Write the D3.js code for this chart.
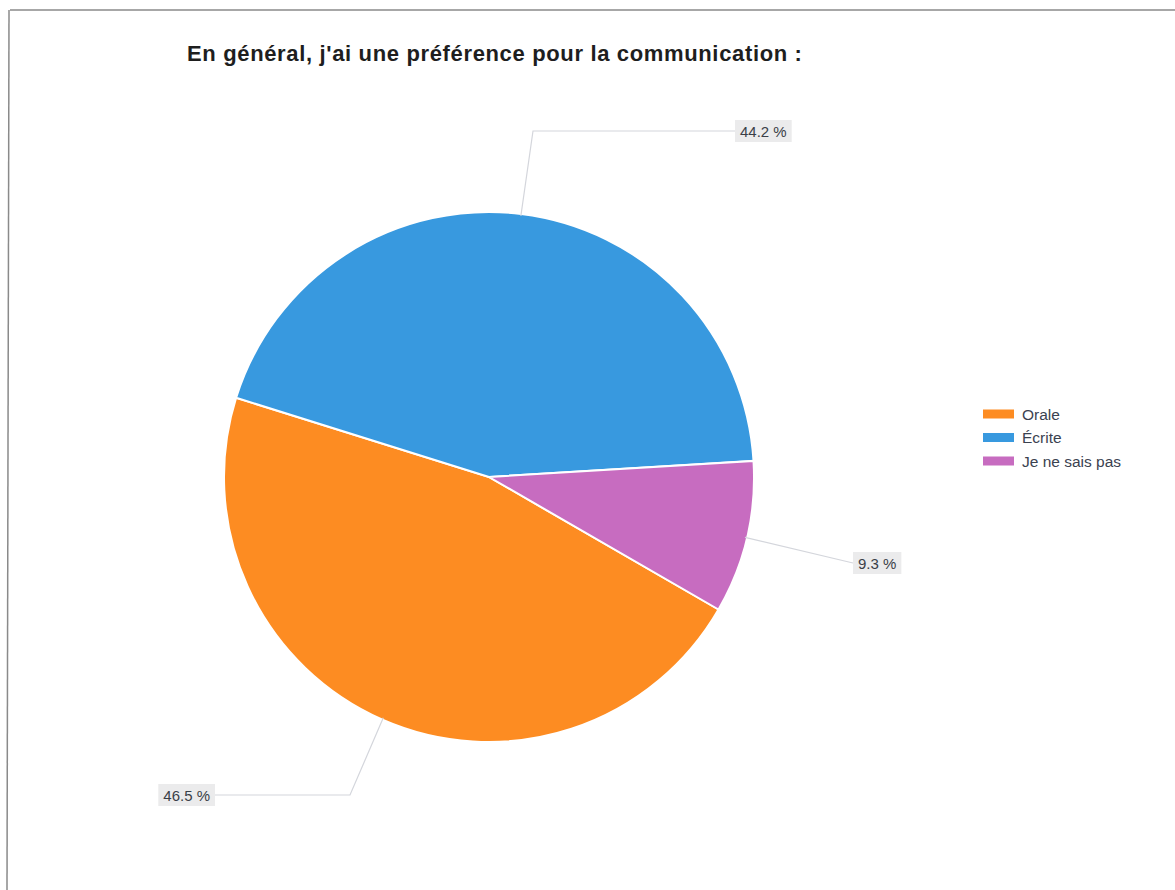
<!DOCTYPE html>
<html>
<head>
<meta charset="utf-8">
<script src="https://cdn.jsdelivr.net/npm/d3@7"></script>
<style>
  html, body { margin: 0; padding: 0; background: #fff; }
  svg { display: block; }
</style>
</head>
<body>
<svg id="chart" width="1175" height="890"></svg>
<script>
// Survey answers and their shares (%)
const categories = ["Orale", "Écrite", "Je ne sais pas"];
const shares = [46.5, 44.2, 9.3];
const sliceColors = ["#fd8c22", "#3899df", "#c76cc0"];
const titleText = "En général, j'ai une préférence pour la communication :";

const svg = d3.select("#chart");
const W = 1175, H = 890;
const FONT = "Liberation Sans, Arial, sans-serif";

// Frame (top and left rules)
svg.append("line").attr("x1", 10).attr("y1", 10).attr("x2", W).attr("y2", 10)
  .attr("stroke", "#8a8a8a").attr("stroke-width", 1.5);
svg.append("line").attr("x1", 9).attr("y1", 10).attr("x2", 7).attr("y2", H)
  .attr("stroke", "#8a8a8a").attr("stroke-width", 1.5);

// Title
svg.append("text")
  .attr("x", 187).attr("y", 61)
  .attr("font-family", FONT)
  .attr("font-weight", "bold").attr("font-size", 22)
  .attr("letter-spacing", 0.65)
  .attr("fill", "#1e1e1e")
  .text(titleText);

const cx = 489, cy = 477, R = 265;
const color = d3.scaleOrdinal().domain(categories).range(sliceColors);

const data = categories.map((c, i) => ({ name: c, value: shares[i] }));
const startDeg = 120;
const pie = d3.pie().value(d => d.value).sort(null)
  .startAngle(startDeg * Math.PI / 180)
  .endAngle((startDeg + 360) * Math.PI / 180);
const arcs = pie(data);
const arc = d3.arc().innerRadius(0).outerRadius(R);

const g = svg.append("g").attr("transform", `translate(${cx},${cy})`);
g.selectAll("path").data(arcs).join("path")
  .attr("d", arc)
  .attr("fill", d => color(d.data.name))
  .attr("stroke", "#fff").attr("stroke-width", 2);

// Leader lines and value labels
const fmt = v => d3.format(".1f")(v) + " %";
const edge = (d, r) => {
  const a = (d.startAngle + d.endAngle) / 2;
  return [Math.sin(a) * r, -Math.cos(a) * r];
};
// per-slice label layout: elbow offset and label side
const labelLayout = {
  "Orale":          { elbow: [-139, 318], end: [-274, 318], anchor: "end" },
  "Écrite":         { elbow: [44, -346], end: [246, -346], anchor: "start" },
  "Je ne sais pas": { elbow: null, end: [364, 86], anchor: "start" }
};
arcs.forEach(d => {
  const L = labelLayout[d.data.name];
  const p0 = edge(d, R - 2);
  const pts = [p0];
  if (L.elbow) pts.push(L.elbow);
  pts.push(L.end);
  g.append("path")
    .attr("d", d3.line()(pts))
    .attr("fill", "none").attr("stroke", "#d4d6dc").attr("stroke-width", 1.2);
  const t = g.append("text")
    .attr("font-family", FONT)
    .attr("font-size", 15).attr("fill", "#3a3f48")
    .attr("dominant-baseline", "central")
    .text(fmt(d.data.value));
  const tw = t.node().getComputedTextLength();
  const padX = 5;
  const tx = L.anchor === "start" ? L.end[0] + padX : L.end[0] - padX - tw;
  t.attr("x", tx).attr("y", L.end[1]);
  g.insert("rect", () => t.node())
    .attr("x", tx - padX).attr("y", L.end[1] - 11)
    .attr("width", tw + 2 * padX).attr("height", 22)
    .attr("fill", "#ebebec");
});

// Legend
const legend = svg.append("g").attr("transform", "translate(983,414)");
const rowH = 23.5;
categories.forEach((c, i) => {
  const row = legend.append("g").attr("transform", `translate(0,${i * rowH})`);
  row.append("rect").attr("x", 0).attr("y", -4.5).attr("width", 31).attr("height", 9)
    .attr("fill", color(c));
  row.append("text").attr("x", 39).attr("y", 0)
    .attr("dominant-baseline", "central")
    .attr("font-family", FONT)
    .attr("font-size", 15.5).attr("fill", "#3b4250")
    .text(c);
});
</script>
</body>
</html>
